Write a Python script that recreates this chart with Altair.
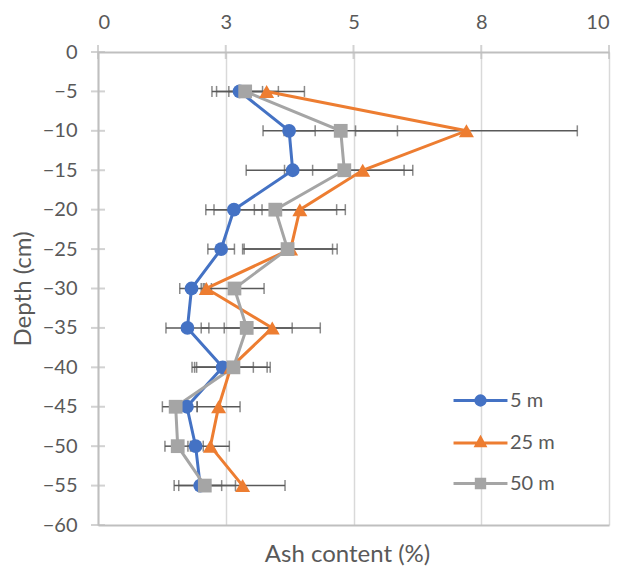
import altair as alt
import pandas as pd

# ---- data ----
depth = [-5, -10, -15, -20, -25, -30, -35, -40, -45, -50, -55]
series_names = ["5 m", "25 m", "50 m"]
ash_5m = [2.77, 3.74, 3.81, 2.66, 2.41, 1.83, 1.75, 2.44, 1.74, 1.91, 2.00]
err_5m = [0.45, 0.51, 0.91, 0.55, 0.26, 0.23, 0.42, 0.60, 0.20, 0.15, 0.42]
ash_25m = [3.30, 7.21, 5.18, 3.95, 3.77, 2.12, 3.41, 2.60, 2.36, 2.20, 2.83]
err_25m = [0.74, 2.17, 0.98, 0.89, 0.91, 0.10, 0.94, 0.71, 0.42, 0.37, 0.83]
ash_50m = [2.88, 4.75, 4.82, 3.47, 3.71, 2.67, 2.91, 2.65, 1.52, 1.56, 2.09]
err_50m = [0.65, 1.11, 1.17, 1.20, 0.88, 0.58, 0.89, 0.72, 0.26, 0.25, 0.60]
x_ticks = [0, 2.5, 5, 7.5, 10]
y_ticks = [0, -5, -10, -15, -20, -25, -30, -35, -40, -45, -50, -55, -60]

colors = ["#4472C4", "#ED7D31", "#A5A5A5"]
shapes = ["circle", "triangle-up", "square"]
marker_sizes = [190, 225, 190]

# legend symbols: a line with the marker drawn over it (nested outlines fill the marker)
legend_paths = [
    "M-1.42,0L1.42,0"
    "M-0.245,0A0.245,0.245,0,1,0,0.245,0A0.245,0.245,0,1,0,-0.245,0Z"
    "M-0.13,0A0.13,0.13,0,1,0,0.13,0A0.13,0.13,0,1,0,-0.13,0Z"
    "M-0.03,0A0.03,0.03,0,1,0,0.03,0A0.03,0.03,0,1,0,-0.03,0Z",
    "M-1.42,0.02L1.42,0.02"
    "M0,-0.25L0.23,0.17L-0.23,0.17Z"
    "M0,-0.1L0.1,0.09L-0.1,0.09Z"
    "M0,0.02L0.02,0.05L-0.02,0.05Z",
    "M-1.42,0L1.42,0"
    "M-0.22,-0.22L0.22,-0.22L0.22,0.22L-0.22,0.22Z"
    "M-0.09,-0.09L0.09,-0.09L0.09,0.09L-0.09,0.09Z"
    "M-0.02,-0.02L0.02,-0.02L0.02,0.02L-0.02,0.02Z",
]

rows = []
for name, vals, errs in [("5 m", ash_5m, err_5m), ("25 m", ash_25m, err_25m), ("50 m", ash_50m, err_50m)]:
    for d, v, e in zip(depth, vals, errs):
        rows.append({"series": name, "depth": d, "ash": v, "lo": v - e, "hi": v + e})
df = pd.DataFrame(rows)

TEXT = "#595959"
AXIS = "#BFBFBF"
FONT = "Lato"

xs = alt.Scale(domain=[0, 10], nice=False, zero=False)
ys = alt.Scale(domain=[-60, 0], nice=False, zero=False)

y_axis = alt.Axis(values=y_ticks, grid=False, ticks=False, domainColor=AXIS, domainWidth=2,
                  labelFontSize=20, labelColor=TEXT, labelPadding=21, labelFont=FONT,
                  title="Depth (cm)", titleFontSize=24, titleColor=TEXT, titleFont=FONT,
                  titleFontWeight="normal", titlePadding=7, orient="left")

top_axis = alt.Axis(orient="top", values=x_ticks, format=".0f", grid=True, gridColor="#D9D9D9",
                    gridWidth=1.5, ticks=False, domainColor=AXIS, domainWidth=2,
                    labelFontSize=20, labelColor=TEXT, labelPadding=20, labelFont=FONT, title=None)

bottom_axis = alt.Axis(orient="bottom", labels=False, ticks=False, grid=False,
                       domainColor=AXIS, domainWidth=2, title="Ash content (%)",
                       titleFontSize=24, titleColor=TEXT, titleFont=FONT,
                       titleFontWeight="normal", titlePadding=17, titleX=249)


def Y(field):
    return alt.Y(field, scale=ys, axis=y_axis)


base = alt.Chart(df)

# axis crossing ticks
yt = alt.Chart(pd.DataFrame({"t": y_ticks})).mark_tick(
    orient="horizontal", size=14, thickness=2, color=AXIS
).encode(y=Y("t:Q"), x=alt.XDatum(0, scale=xs, axis=None))
xt = alt.Chart(pd.DataFrame({"t": x_ticks})).mark_tick(
    orient="vertical", size=14, thickness=2, color=AXIS
).encode(x=alt.X("t:Q", scale=xs, axis=top_axis), y=alt.YDatum(0, scale=ys, axis=y_axis))

# error bars
err_rule = base.mark_rule(color=TEXT, strokeWidth=1.5).encode(
    x=alt.X("lo:Q", scale=xs, axis=None),
    x2="hi:Q",
    y=Y("depth:Q"),
)
err_caps = base.transform_fold(["lo", "hi"], as_=["cap", "capx"]).mark_tick(
    orient="vertical", size=11, thickness=1.5, color=TEXT
).encode(
    x=alt.X("capx:Q", scale=xs, axis=None),
    y=Y("depth:Q"),
)

line_layers = []
point_layers = []
for i, (name, col, shp, sz) in enumerate(zip(series_names, colors, shapes, marker_sizes)):
    sub = base.transform_filter(alt.datum.series == name)
    line_layers.append(
        sub.mark_line(strokeWidth=3, color=col).encode(
            x=alt.X("ash:Q", scale=xs, axis=bottom_axis if i == 0 else None),
            y=Y("depth:Q"),
            order=alt.Order("depth:Q", sort="descending"),
        )
    )
    point_layers.append(
        sub.mark_point(filled=True, opacity=1, shape=shp, size=sz, color=col).encode(
            x=alt.X("ash:Q", scale=xs, axis=None),
            y=Y("depth:Q"),
        )
    )

leg = alt.Legend(orient="none", legendX=362, legendY=328, padding=0, title=None,
                 symbolSize=1444, symbolStrokeWidth=3, labelFontSize=20, labelColor=TEXT,
                 labelFont=FONT, labelOffset=9, rowPadding=10)

legend_layer = base.transform_filter("false").mark_point(filled=False, strokeWidth=3, opacity=1).encode(
    x=alt.X("ash:Q", scale=xs, axis=None),
    y=Y("depth:Q"),
    color=alt.Color("series:N", scale=alt.Scale(domain=series_names, range=colors), legend=leg),
    shape=alt.Shape("series:N", scale=alt.Scale(domain=series_names, range=legend_paths), legend=leg),
)

chart = alt.layer(xt, yt, err_rule, err_caps, *line_layers, *point_layers, legend_layer).resolve_axis(
    x="independent"
).properties(
    width=511, height=473,
    padding={"left": 90, "top": 44, "right": 6, "bottom": 43},
    autosize="none",
).configure_view(stroke=None)

chart.save("out.html", embed_options={"renderer": "svg", "actions": False})
